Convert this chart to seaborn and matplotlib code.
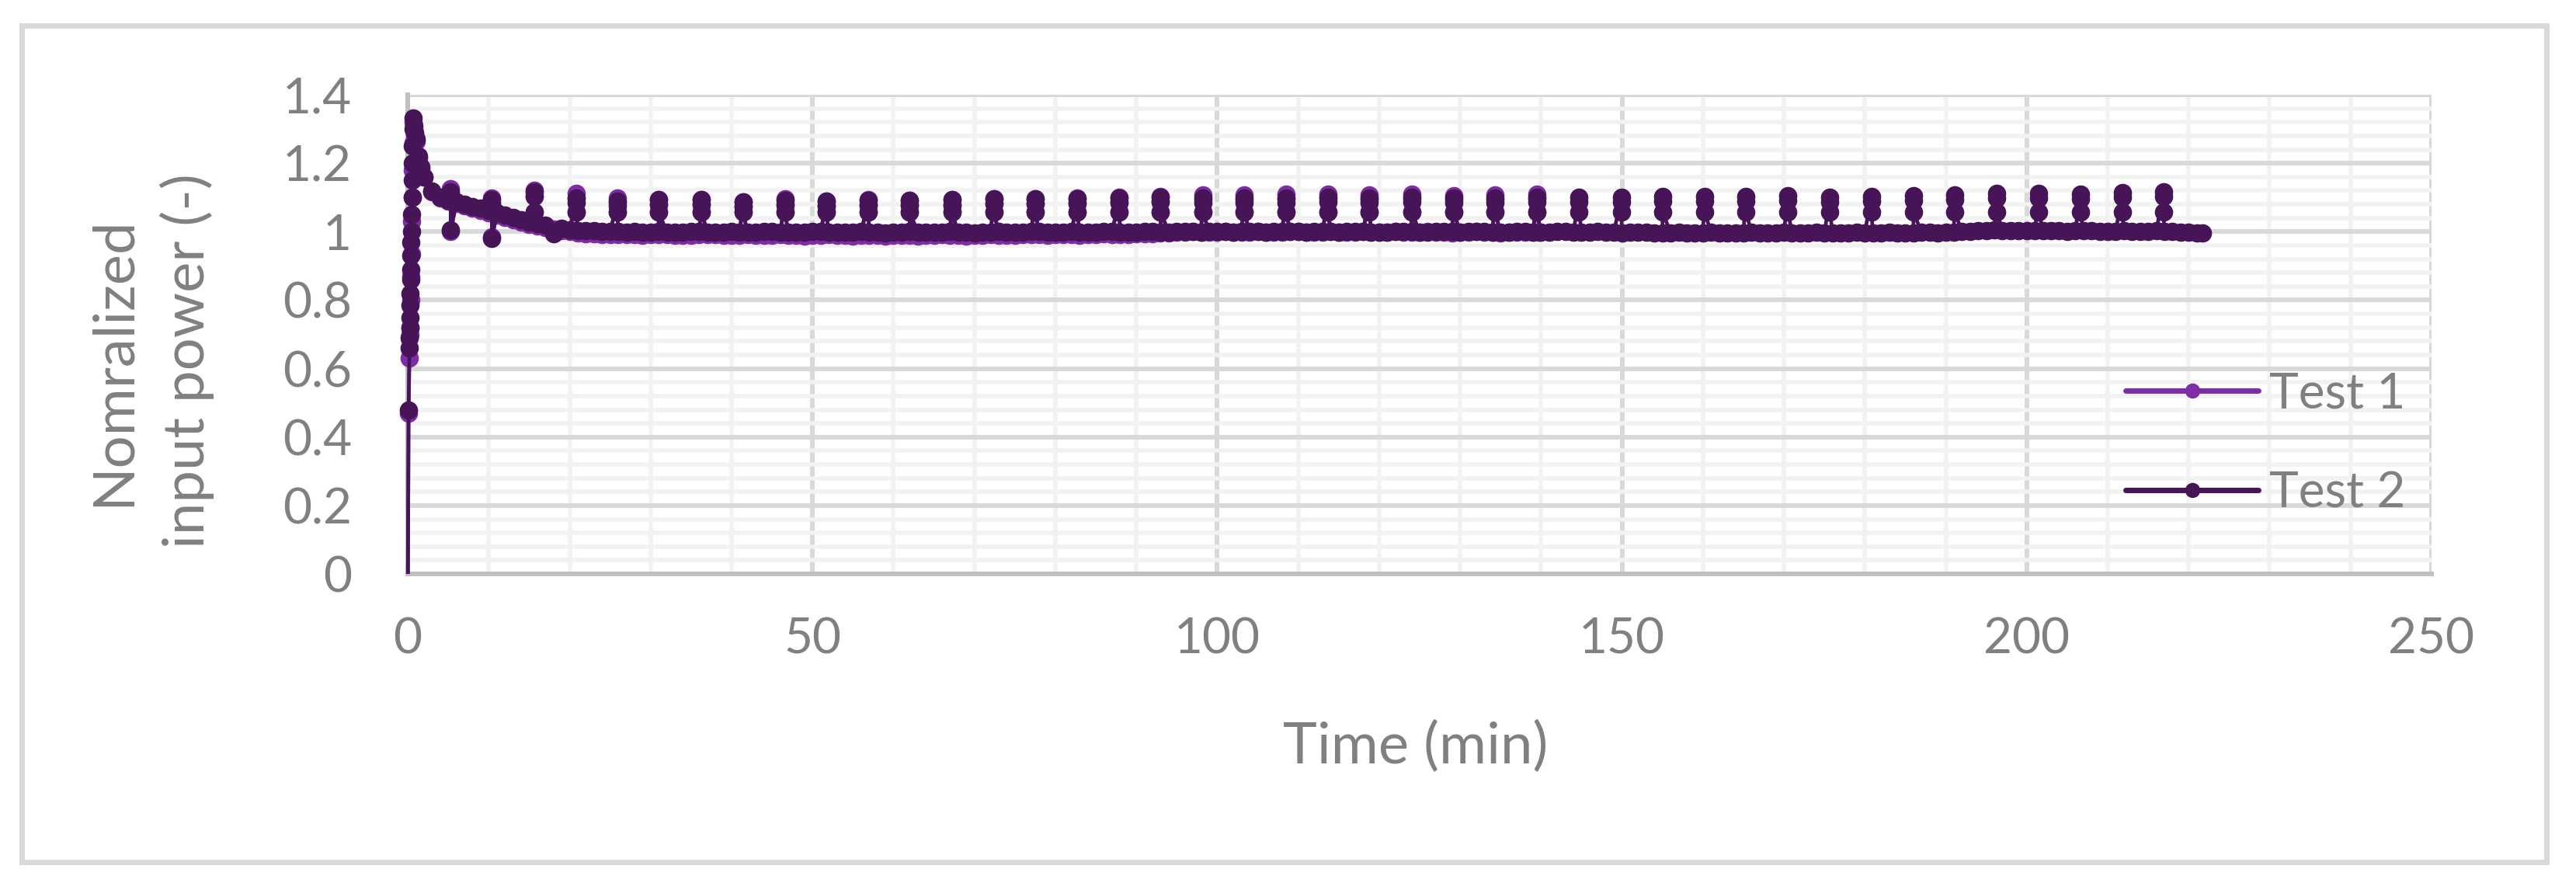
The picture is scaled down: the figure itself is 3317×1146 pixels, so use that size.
import numpy as np
import pandas as pd
import matplotlib
matplotlib.use("Agg")
import matplotlib.pyplot as plt
import seaborn as sns
from matplotlib.patches import Rectangle
from matplotlib.ticker import MultipleLocator, FuncFormatter
from matplotlib.transforms import Bbox, TransformedBbox

# ---- data ----
# start-up (first 1.6 min)
t1_start_t = [0, 0.1, 0.2, 0.25, 0.3, 0.35, 0.4, 0.45, 0.5, 0.55, 0.6, 0.65, 0.7, 0.8, 0.9, 1.0, 1.3, 1.6]
t1_start_v = [-0.1, 0.47, 0.63, 0.70, 0.72, 0.80, 0.87, 0.935, 1.03, 1.10, 1.18, 1.26, 1.32, 1.30, 1.285, 1.265, 1.215, 1.185]
t2_start_t = [0, 0.1, 0.2, 0.22, 0.25, 0.27, 0.3, 0.32, 0.35, 0.37, 0.4, 0.42, 0.45, 0.5, 0.52, 0.55,
              0.58, 0.6, 0.65, 0.7, 0.8, 0.9, 1.0, 1.3, 1.6]
t2_start_v = [-0.1, 0.48, 0.66, 0.69, 0.72, 0.75, 0.785, 0.82, 0.86, 0.89, 0.93, 0.97, 1.0, 1.05, 1.10, 1.15,
              1.20, 1.25, 1.30, 1.333, 1.31, 1.29, 1.27, 1.22, 1.19]

# one reading per minute from t = 2 min on
t1_base = [
    1.160, 1.117, 1.099, 1.090, 1.083, 1.076, 1.069, 1.062, 1.055, 1.048,
    1.041, 1.034, 1.028, 1.022, 1.017, 1.012, 1.007, 1.003, 1.000, 0.997,
    0.995, 0.993, 0.992, 0.992, 0.991, 0.992, 0.991, 0.990, 0.991, 0.992,
    0.991, 0.990, 0.989, 0.990, 0.991, 0.992, 0.991, 0.990, 0.989, 0.990,
    0.991, 0.990, 0.989, 0.990, 0.991, 0.990, 0.989, 0.988, 0.989, 0.990,
    0.991, 0.990, 0.989, 0.988, 0.989, 0.990, 0.989, 0.988, 0.989, 0.990,
    0.989, 0.988, 0.989, 0.990, 0.991, 0.990, 0.989, 0.988, 0.989, 0.990,
    0.991, 0.990, 0.989, 0.990, 0.991, 0.992, 0.991, 0.990, 0.991, 0.992,
    0.991, 0.990, 0.991, 0.992, 0.993, 0.992, 0.991, 0.992, 0.993, 0.994,
    0.995, 0.996, 0.997, 0.998, 0.999, 1.000, 0.999, 0.998, 0.999, 1.000,
    0.999, 0.998, 0.999, 1.000, 0.999, 0.998, 0.999, 1.000, 1.000, 0.999,
    0.998, 0.999, 1.000, 0.999, 0.998, 0.999, 1.000, 0.999, 0.998, 0.999,
    1.000, 0.999, 0.998, 0.999, 1.000, 0.999, 0.998, 0.997, 0.998, 0.999,
    1.000, 0.999, 0.998, 0.997, 0.998, 0.999, 0.999, 0.998,
]
t2_base = [
    1.160, 1.118, 1.100, 1.092, 1.086, 1.080, 1.074, 1.068, 1.062, 1.056,
    1.048, 1.041, 1.035, 1.029, 1.024, 1.019, 0.995, 1.010, 1.006, 1.004,
    1.003, 1.002, 1.001, 1.000, 1.000, 0.999, 1.000, 0.998, 0.999, 1.000,
    0.999, 0.998, 0.999, 1.000, 1.000, 0.999, 0.998, 0.999, 1.000, 0.999,
    0.998, 0.999, 1.000, 1.000, 0.999, 0.999, 0.998, 0.999, 1.000, 1.000,
    0.999, 0.998, 0.998, 0.999, 1.000, 0.999, 0.998, 0.997, 0.998, 0.999,
    1.000, 0.999, 0.998, 0.998, 0.999, 1.000, 0.999, 0.998, 0.997, 0.998,
    0.999, 1.000, 0.999, 0.998, 0.999, 1.000, 1.000, 0.999, 0.998, 0.999,
    1.000, 0.999, 0.998, 0.999, 1.000, 1.000, 0.999, 0.998, 0.999, 1.000,
    1.000, 0.999, 0.999, 1.000, 1.001, 1.000, 0.999, 1.000, 1.001, 1.000,
    0.999, 1.000, 1.001, 1.000, 0.999, 1.000, 1.001, 1.001, 1.000, 0.999,
    1.000, 1.001, 1.000, 0.999, 1.000, 1.001, 1.000, 0.999, 0.998, 0.999,
    1.000, 1.001, 1.000, 0.999, 0.999, 1.000, 1.001, 1.000, 0.999, 1.000,
    1.001, 1.000, 0.999, 0.998, 0.999, 1.000, 1.000, 0.999, 0.998, 0.999,
    1.000, 1.000, 0.999, 0.998, 0.999, 1.000, 0.999, 0.998, 0.997, 0.998,
    0.999, 0.998, 0.997, 0.996, 0.997, 0.998, 0.997, 0.996, 0.997, 0.998,
    0.997, 0.996, 0.996, 0.997, 0.998, 0.997, 0.996, 0.997, 0.998, 0.997,
    0.996, 0.997, 0.998, 0.997, 0.996, 0.996, 0.997, 0.998, 0.997, 0.996,
    0.997, 0.998, 0.997, 0.996, 0.997, 0.998, 0.998, 0.997, 0.998, 0.999,
    1.000, 1.001, 1.003, 1.004, 1.005, 1.004, 1.003, 1.003, 1.004, 1.003,
    1.002, 1.003, 1.002, 1.001, 1.002, 1.003, 1.002, 1.001, 1.000, 1.001,
    1.002, 1.001, 1.000, 1.001, 1.002, 1.001, 1.000, 0.999, 0.998, 0.997,
]
t1_end = (139.8, 0.998)
t2_end = (221.7, 0.997)

# periodic spikes
spike_t = [5.3, 10.4, 15.6, 20.8, 25.9, 31.0, 36.3, 41.4, 46.6, 51.7,
           56.9, 62.0, 67.2, 72.4, 77.5, 82.7, 87.9, 93.0, 98.2, 103.3,
           108.5, 113.7, 118.8, 124.0, 129.2, 134.3, 139.5, 144.7, 149.9, 155.0,
           160.2, 165.3, 170.5, 175.7, 180.8, 186.0, 191.1, 196.3, 201.5, 206.6,
           211.8, 216.9]
t2_peak = [1.117, 1.094, 1.117, 1.098, 1.090, 1.094, 1.094, 1.087, 1.092, 1.090,
           1.091, 1.091, 1.093, 1.096, 1.096, 1.096, 1.098, 1.100, 1.098, 1.098,
           1.098, 1.100, 1.098, 1.100, 1.099, 1.099, 1.100, 1.101, 1.100, 1.103,
           1.103, 1.103, 1.106, 1.100, 1.103, 1.106, 1.108, 1.112, 1.112, 1.110,
           1.115, 1.117]
t1_peak = [1.125, 1.098, 1.120, 1.113, 1.098, 1.094, 1.094, 1.087, 1.095, 1.090,
           1.093, 1.092, 1.093, 1.096, 1.097, 1.098, 1.100, 1.103, 1.108, 1.108,
           1.110, 1.110, 1.108, 1.110, 1.106, 1.108, 1.110]
t2_low = [1.005, 0.980] + [1.058] * 40
t1_low = [1.000, 0.985] + [1.058] * 25
cap_drop = 0.014

palette = {"Test 1": "#7F2DA5", "Test 2": "#481458"}


def build_series(name, start_t, start_v, base, end, peaks, lows):
    pts = list(zip(start_t, start_v))
    pts += [(2 + i, v) for i, v in enumerate(base)]
    pts.append(end)
    for ts, pk, lo in zip(spike_t, peaks, lows):
        pts += [(ts, pk), (ts, pk - cap_drop), (ts, lo)]
    pts = sorted(pts, key=lambda p: p[0])
    return pd.DataFrame({"time": [p[0] for p in pts],
                         "power": [p[1] for p in pts],
                         "test": name})


df = pd.concat([
    build_series("Test 1", t1_start_t, t1_start_v, t1_base, t1_end, t1_peak, t1_low),
    build_series("Test 2", t2_start_t, t2_start_v, t2_base, t2_end, t2_peak, t2_low),
], ignore_index=True)

sns.set_style("white")
plt.rcParams["font.family"] = ["Lato", "DejaVu Sans"]

fig = plt.figure(figsize=(33.17, 11.46), dpi=100)
ax = fig.add_axes([0.1583, 0.3551, 0.7856, 0.5384])

sns.lineplot(data=df, x="time", y="power", hue="test", palette=palette,
             estimator=None, sort=False, marker="o", markersize=17,
             markeredgewidth=0, linewidth=3.4, ax=ax)

# let markers spill a little past the left axis, and sit above the axis line
for line in ax.lines:
    line.set_markersize(17)
    line.set_linewidth(3.4)
    line.set_markeredgewidth(0)
    line.set_zorder(3)
    line.set_clip_path(None)
    line.set_clip_box(TransformedBbox(Bbox([[-0.01, 0.0], [1.0, 1.05]]), ax.transAxes))

ax.set_xlim(0, 250)
ax.set_ylim(0, 1.4)
ax.xaxis.set_major_locator(MultipleLocator(50))
ax.xaxis.set_minor_locator(MultipleLocator(10))
ax.yaxis.set_major_locator(MultipleLocator(0.2))
ax.yaxis.set_minor_locator(MultipleLocator(0.04))
ax.yaxis.set_major_formatter(FuncFormatter(lambda v, p: f"{v:g}"))
ax.xaxis.set_major_formatter(FuncFormatter(lambda v, p: f"{v:g}"))

ax.grid(which="major", color="#d9d9d9", linewidth=4.3)
ax.grid(which="minor", color="#f2f2f2", linewidth=4.0)
ax.set_axisbelow(True)
ax.tick_params(which="both", length=0, labelsize=46, labelcolor="#808080")
ax.tick_params(axis="y", pad=52)
ax.tick_params(axis="x", pad=40)
for side in ["top", "right"]:
    ax.spines[side].set_visible(False)
for side in ["left", "bottom"]:
    ax.spines[side].set_color("#bfbfbf")
    ax.spines[side].set_linewidth(4.3)
ax.set_xlabel("")
ax.set_ylabel("")

handles, labels = ax.get_legend_handles_labels()
leg = ax.legend(handles, labels, loc="upper left", bbox_to_anchor=(0.849, 0.423),
                frameon=False, fontsize=46, labelcolor="#808080", handlelength=2.67,
                handletextpad=0.22, labelspacing=1.1, borderpad=0, borderaxespad=0)
for h in leg.legend_handles:
    h.set_linewidth(5)
    h.set_markersize(14)
    h.set_markeredgewidth(0)

fig.text(0.5496, 0.1422, "Time (min)", ha="center", va="baseline",
         fontsize=53.5, color="#808080")
fig.text(0.0585, 0.5942, "Nomralized\ninput power (-)", ha="center", va="center",
         rotation=90, multialignment="center", linespacing=1.45,
         fontsize=53.5, color="#808080")

fig.add_artist(Rectangle((0.00844, 0.0314), 0.9801, 0.9398, transform=fig.transFigure,
                         fill=False, edgecolor="#d9d9d9", linewidth=5))

fig.savefig("out.png", dpi=100)
